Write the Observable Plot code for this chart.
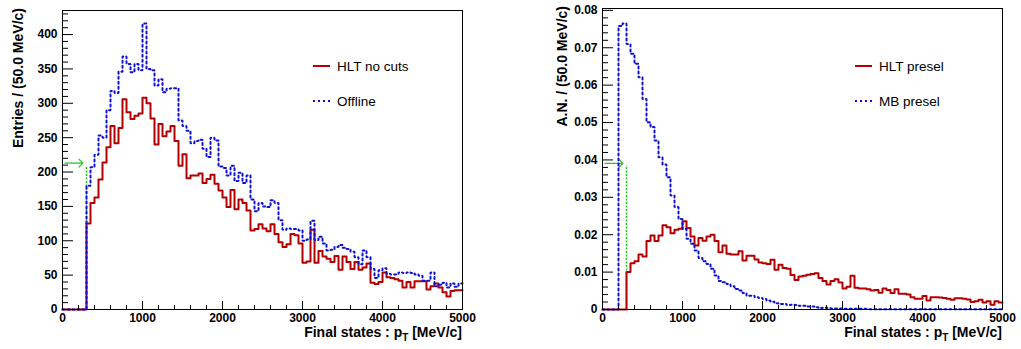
<!DOCTYPE html>
<html>
<head>
<meta charset="utf-8">
<script src="https://cdn.jsdelivr.net/npm/d3@7"></script>
<script src="https://cdn.jsdelivr.net/npm/@observablehq/plot@0.6"></script>
<style>
  body { margin: 0; background: #fff; }
  #row { display: flex; width: 1021px; height: 349px; }
  svg text { font-family: "Liberation Sans", Arial, sans-serif; }
</style>
</head>
<body>
<div id="row"></div>
<script>
// Histogram binning: 100 bins of 50 MeV/c, low edges
const binLow = d3.range(0, 5000, 50);
const xMax = 5000;

// Left pad: entries per bin
const hltNoCuts = [
  0, 0, 0, 0, 0, 0, 125, 155, 163, 189,
  214, 236, 267, 242, 264, 306, 287, 277, 282, 285,
  308, 300, 278, 240, 270, 252, 259, 267, 245, 209,
  226, 191, 195, 195, 198, 184, 190, 196, 183, 173,
  163, 149, 174, 146, 160, 155, 144, 115, 117, 124,
  118, 114, 124, 110, 98, 91, 95, 110, 108, 96,
  68, 70, 116, 68, 85, 77, 74, 69, 78, 58,
  77, 69, 59, 69, 58, 61, 67, 39, 37, 40,
  54, 47, 46, 44, 42, 32, 40, 32, 41, 41,
  41, 29, 34, 38, 32, 25, 19, 27, 28, 28
];
const offline = [
  0, 0, 0, 0, 0, 0, 180, 207, 225, 253,
  250, 290, 318, 315, 346, 368, 357, 345, 357, 348,
  416, 350, 348, 326, 335, 316, 321, 322, 322, 275,
  267, 260, 242, 245, 247, 234, 222, 250, 246, 208,
  206, 195, 209, 187, 199, 184, 195, 160, 143, 155,
  150, 149, 159, 155, 130, 116, 118, 117, 117, 115,
  100, 102, 129, 101, 106, 96, 86, 87, 91, 94,
  90, 88, 84, 76, 66, 86, 76, 59, 46, 57,
  60, 52, 51, 51, 54, 53, 54, 53, 51, 49,
  42, 42, 54, 34, 36, 39, 32, 38, 33, 38
];

// Right pad: area-normalised per bin
const hltPresel = [
  0, 0, 0, 0, 0, 0, 0.0100, 0.0124, 0.0129, 0.0147,
  0.0142, 0.0183, 0.0198, 0.0183, 0.0198, 0.0225, 0.0220, 0.0204, 0.0213, 0.0216,
  0.0236, 0.0218, 0.0195, 0.0171, 0.0191, 0.0184, 0.0195, 0.0200, 0.0183, 0.0153,
  0.0171, 0.0149, 0.0147, 0.0147, 0.0156, 0.0131, 0.0144, 0.0144, 0.0134, 0.0126,
  0.0124, 0.0122, 0.0133, 0.0106, 0.0120, 0.0111, 0.0109, 0.0092, 0.0079, 0.0088,
  0.0090, 0.0093, 0.0095, 0.0097, 0.0084, 0.0076, 0.0067, 0.0076, 0.0081, 0.0072,
  0.0056, 0.0061, 0.0090, 0.0058, 0.0056, 0.0056, 0.0054, 0.0051, 0.0052, 0.0045,
  0.0056, 0.0052, 0.0044, 0.0054, 0.0042, 0.0042, 0.0040, 0.0033, 0.0029, 0.0029,
  0.0036, 0.0024, 0.0033, 0.0033, 0.0032, 0.0031, 0.0029, 0.0026, 0.0030, 0.0030,
  0.0029, 0.0027, 0.0020, 0.0022, 0.0026, 0.0019, 0.0022, 0.0013, 0.0022, 0.0019
];
const mbPresel = [
  0, 0, 0, 0, 0.0758, 0.0765, 0.0710, 0.0684, 0.0657, 0.0621,
  0.0563, 0.0501, 0.0488, 0.0452, 0.0407, 0.0388, 0.0354, 0.0305, 0.0274, 0.0242,
  0.0215, 0.0189, 0.0176, 0.0158, 0.0138, 0.0129, 0.0122, 0.0109, 0.0091, 0.0076,
  0.0073, 0.0068, 0.0062, 0.0055, 0.0051, 0.0044, 0.0037, 0.0037, 0.0033, 0.0031,
  0.0028, 0.0024, 0.0021, 0.0017, 0.0015, 0.0015, 0.0012, 0.0013, 0.0012, 0.0010,
  0.0010, 0.0008, 0.0008, 0.0006, 0.0004, 0.0005, 0.0004, 0.0003, 0.0003, 0.0003,
  0.0002, 0.0002, 0.0002, 0.0002, 0.0002, 0.0002, 0.0001, 0.0001, 0.0001, 0.0001,
  0.0001, 0.0001, 0.0001, 0.0001, 0.0001, 0.0001, 0.0001, 0.0001, 0.0001, 0.0001,
  0.0001, 0.0001, 0.0001, 0.0001, 0.0001, 0.0001, 0.0001, 0.0001, 0.0001, 0.0001,
  0.0001, 0.0001, 0.0001, 0.0001, 0.0001, 0.0001, 0.0001, 0.0001, 0.0001, 0.0001
];

// Selection cut on pT, shown as a green dotted line with an arrow
const ptCut = 300;
const cutMarkLeft = [{from: 30, to: 255, level: 213, top: 208}];
const cutMarkRight = [{from: 30, to: 255, level: 0.0391, top: 0.0385}];

// Axis ticks
const xMajor = [0, 1000, 2000, 3000, 4000, 5000];
const xMinor = d3.range(0, 5001, 200).filter(v => v % 1000 !== 0);
const yMajorLeft = [0, 50, 100, 150, 200, 250, 300, 350, 400];
const yMinorLeft = d3.range(0, 431, 10).filter(v => v % 50 !== 0);
const yMajorRight = [0, 0.01, 0.02, 0.03, 0.04, 0.05, 0.06, 0.07, 0.08];
const yMinorRight = d3.range(1, 41).filter(v => v % 5 !== 0).map(v => v * 0.002);

const legendLeft = ["HLT no cuts", "Offline"];
const legendRight = ["HLT presel", "MB presel"];

const RED = "#b40000";
const BLUE = "#1010d0";
const GREEN = "#22c422";
const DOTS = "2,3";

function steps(values) {
  const pts = binLow.map((x, i) => ({x, y: values[i]}));
  pts.push({x: xMax, y: values[values.length - 1]});
  return pts;
}

function panel(cfg) {
  const {width, height, marginLeft, marginRight, marginTop, marginBottom, yMax} = cfg;
  const innerW = width - marginLeft - marginRight;
  const innerH = height - marginTop - marginBottom;
  const svg = Plot.plot({
    width, height, marginLeft, marginRight, marginTop, marginBottom,
    style: {background: "white", fontFamily: "Liberation Sans, Arial, sans-serif", overflow: "visible"},
    x: {domain: [0, xMax]},
    y: {domain: [0, yMax]},
    marks: [
      // cut marker
      Plot.ruleX(cfg.cut, {x: () => ptCut, y1: 0, y2: "top", stroke: GREEN, strokeWidth: 1.5, strokeDasharray: "2,1.5"}),
      Plot.arrow(cfg.cut, {x1: "from", x2: "to", y1: "level", y2: "level", stroke: GREEN, strokeWidth: 1.2, headLength: 7, headAngle: 90}),
      // histograms
      Plot.line(steps(cfg.solid), {x: "x", y: "y", curve: "step-after", stroke: RED, strokeWidth: 2}),
      Plot.line(steps(cfg.dotted), {x: "x", y: "y", curve: "step-after", stroke: BLUE, strokeWidth: 2, strokeDasharray: DOTS, strokeLinejoin: "miter"}),
      // inward ticks
      Plot.tickX(xMajor, {x: d => d, insetTop: innerH - 8, stroke: "black"}),
      Plot.tickX(xMinor, {x: d => d, insetTop: innerH - 4, stroke: "black"}),
      Plot.tickY(cfg.yMajor, {y: d => d, insetRight: innerW - 11, stroke: "black"}),
      Plot.tickY(cfg.yMinor, {y: d => d, insetRight: innerW - 6, stroke: "black"}),
      // tick labels
      Plot.axisX(xMajor, {tickSize: 0, tickPadding: 4, tickFormat: d3.format("d"), fontSize: 12, fontWeight: "bold", label: null}),
      Plot.axisY(cfg.yMajor, {tickSize: 0, tickPadding: 5, tickFormat: cfg.yFormat, fontSize: 12, fontWeight: "bold", label: null}),
      Plot.frame({stroke: "black"})
    ]
  });

  const s = d3.select(svg);
  // x title with subscript
  const xt = s.append("text")
    .attr("x", marginLeft + innerW).attr("y", height - 12)
    .attr("text-anchor", "end").attr("font-size", 14).attr("font-weight", "bold").attr("fill", "black");
  xt.append("tspan").text("Final states : p");
  xt.append("tspan").attr("dy", 3.5).attr("font-size", 10).text("T");
  xt.append("tspan").attr("dy", -3.5).text(" [MeV/c]");
  // y title
  s.append("text")
    .attr("transform", `translate(${cfg.yTitleX},${marginTop - 2}) rotate(-90)`)
    .attr("text-anchor", "end").attr("dy", "0.35em")
    .attr("font-size", 14).attr("font-weight", "bold").attr("fill", "black")
    .text(cfg.yTitle);
  // legend
  const lg = s.append("g");
  cfg.legend.forEach((label, i) => {
    const y = 66 + i * 35;
    lg.append("line")
      .attr("x1", cfg.legendX).attr("x2", cfg.legendX + 17).attr("y1", y).attr("y2", y)
      .attr("stroke", i === 0 ? RED : BLUE).attr("stroke-width", 2)
      .attr("stroke-dasharray", i === 0 ? null : DOTS);
    lg.append("text")
      .attr("x", cfg.legendX + 24).attr("y", y).attr("dy", "0.35em")
      .attr("text-anchor", "start")
      .attr("font-size", 13.5).attr("fill", "black").text(label);
  });
  return svg;
}

const row = document.getElementById("row");
row.appendChild(panel({
  width: 510, height: 349, marginLeft: 62, marginRight: 48, marginTop: 10, marginBottom: 40,
  yMax: 435, yMajor: yMajorLeft, yMinor: yMinorLeft, yFormat: d3.format("d"),
  solid: hltNoCuts, dotted: offline, cut: cutMarkLeft,
  yTitle: "Entries / (50.0 MeV/c)", yTitleX: 18, legend: legendLeft, legendX: 313
}));
row.appendChild(panel({
  width: 511, height: 349, marginLeft: 92, marginRight: 19, marginTop: 8, marginBottom: 40,
  yMax: 0.0805, yMajor: yMajorRight, yMinor: yMinorRight, yFormat: d => d === 0 ? "0" : d.toFixed(2),
  solid: hltPresel, dotted: mbPresel, cut: cutMarkRight,
  yTitle: "A.N. / (50.0 MeV/c)", yTitleX: 52, legend: legendRight, legendX: 345
}));
</script>
</body>
</html>
